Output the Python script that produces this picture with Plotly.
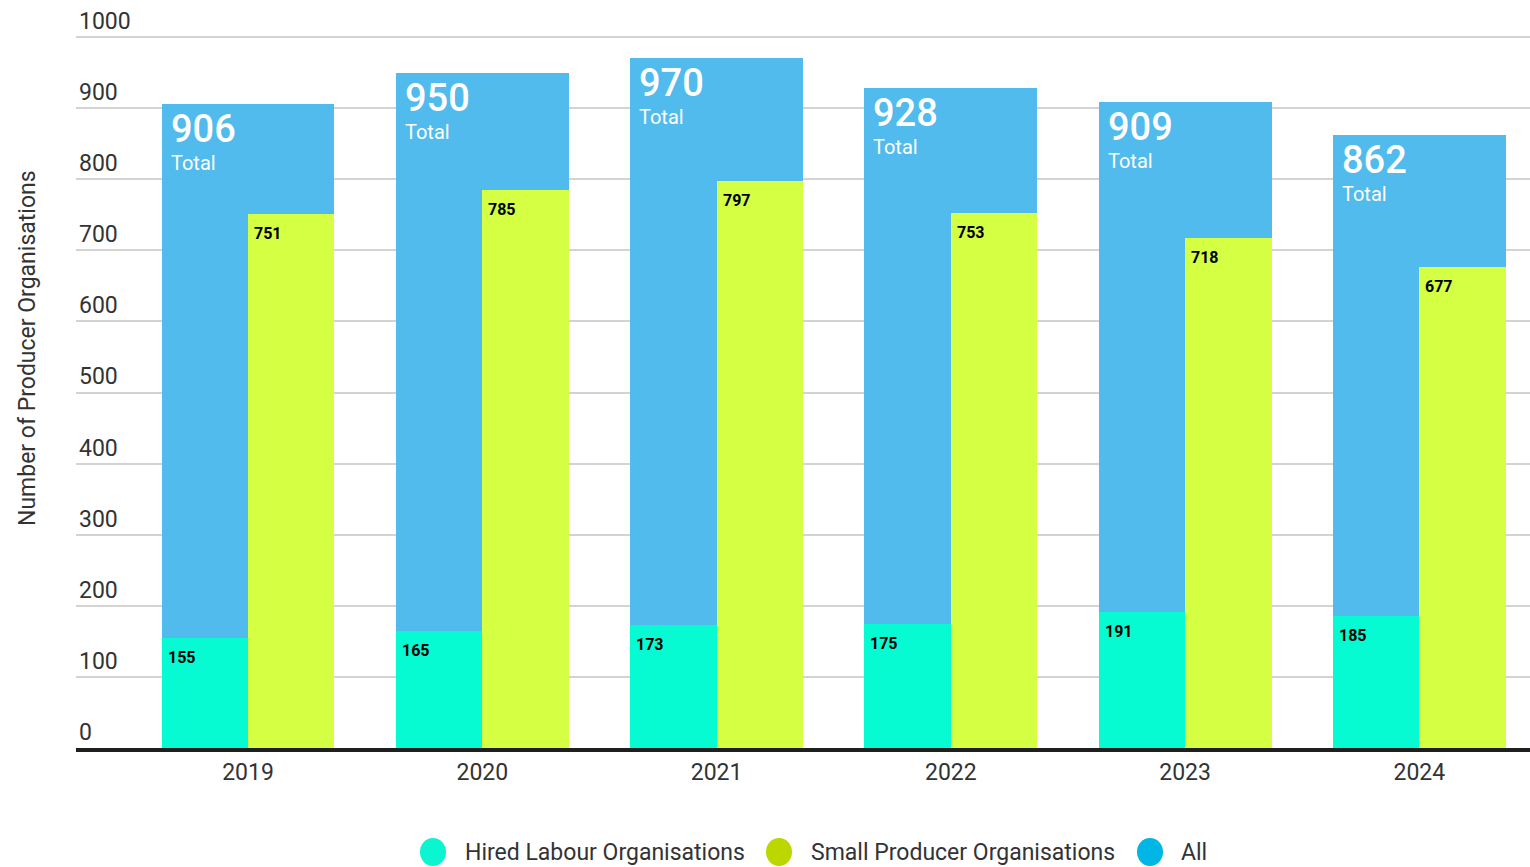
import plotly.graph_objects as go

years = ["2019", "2020", "2021", "2022", "2023", "2024"]
all_total = [906, 950, 970, 928, 909, 862]
hired_labour = [155, 165, 173, 175, 191, 185]
small_producer = [751, 785, 797, 753, 718, 677]

legend_names = ["Hired Labour Organisations", "Small Producer Organisations", "All"]

bar_all = "#50bbec"
bar_hired = "#06fbd2"
bar_spo = "#d4ff42"
legend_colors = ["#0af5d0", "#bcd600", "#00b6e4"]

FONT = "Roboto"
TEXT = "#333333"
half = 0.369

W, H = 1530, 867
L, R, T, B = 76, 0, 9, 119
PW, PH = W - L - R, H - T - B


def px_x(px):
    return (px - L) / PW


def px_y(py):
    return (H - B - py) / PH


fig = go.Figure()

fig.add_trace(go.Bar(x=years, y=all_total, width=2 * half, offset=-half,
                     marker=dict(color=bar_all, line=dict(width=0)),
                     name="All", showlegend=False, hoverinfo="y"))
fig.add_trace(go.Bar(x=years, y=hired_labour, width=half, offset=-half,
                     marker=dict(color=bar_hired, line=dict(width=0)),
                     name="Hired Labour Organisations", showlegend=False, hoverinfo="y"))
fig.add_trace(go.Bar(x=years, y=small_producer, width=half, offset=0,
                     marker=dict(color=bar_spo, line=dict(width=0)),
                     name="Small Producer Organisations", showlegend=False, hoverinfo="y"))

ann = []
for i, y in enumerate(years):
    ann.append(dict(x=i - half, y=all_total[i], xref="x", yref="y",
                    text=str(all_total[i]), showarrow=False,
                    xanchor="left", yanchor="top", xshift=7, yshift=-1,
                    font=dict(family=FONT, size=38, color="white", weight=500)))
    ann.append(dict(x=i - half, y=all_total[i], xref="x", yref="y",
                    text="Total", showarrow=False,
                    xanchor="left", yanchor="top", xshift=7, yshift=-45,
                    font=dict(family=FONT, size=20, color="white")))
    ann.append(dict(x=i - half, y=hired_labour[i], xref="x", yref="y",
                    text=str(hired_labour[i]), showarrow=False,
                    xanchor="left", yanchor="top", xshift=4, yshift=-8,
                    font=dict(family=FONT, size=16, color="black", weight="bold")))
    ann.append(dict(x=i, y=small_producer[i], xref="x", yref="y",
                    text=str(small_producer[i]), showarrow=False,
                    xanchor="left", yanchor="top", xshift=4, yshift=-8,
                    font=dict(family=FONT, size=16, color="black", weight="bold")))

# y-axis title
ann.append(dict(x=px_x(27), y=px_y(348), xref="paper", yref="paper",
                text="Number of Producer Organisations", textangle=-90,
                showarrow=False, xanchor="center", yanchor="middle",
                font=dict(family=FONT, size=23, color=TEXT)))

# legend: round swatches + labels along the bottom
shapes = []
swatch_x = [433, 779, 1150]
label_x = [463, 809, 1179]
legend_y = 852
for name, col, sx, lx in zip(legend_names, legend_colors, swatch_x, label_x):
    shapes.append(dict(type="circle", xref="paper", yref="paper",
                       xsizemode="pixel", ysizemode="pixel",
                       xanchor=px_x(sx), yanchor=px_y(legend_y),
                       x0=-13, x1=13, y0=-14, y1=14,
                       fillcolor=col, line=dict(width=0)))
    ann.append(dict(x=px_x(lx), y=px_y(legend_y), xref="paper", yref="paper",
                    text=name, showarrow=False, xanchor="left", yanchor="middle",
                    font=dict(family=FONT, size=23, color=TEXT)))

fig.update_layout(
    width=W, height=H,
    margin=dict(l=L, r=R, t=T, b=B),
    paper_bgcolor="white", plot_bgcolor="white",
    barmode="overlay", bargap=0,
    font=dict(family=FONT, color=TEXT),
    annotations=ann, shapes=shapes,
    showlegend=False,
    xaxis=dict(type="category", range=[-0.7344, 5.4723], showgrid=False,
               showline=True, linecolor="#1f1f1f", linewidth=4,
               ticks="", tickfont=dict(family=FONT, size=23, color=TEXT)),
    yaxis=dict(range=[0, PH / 0.711], tickvals=list(range(0, 1001, 100)),
               showgrid=True, gridcolor="#d3d3d3", gridwidth=2,
               zeroline=False, showline=False,
               ticklabelposition="inside top", ticklabeloverflow="allow",
               ticks="", tickfont=dict(family=FONT, size=23, color=TEXT)),
)

fig.write_html("out.html")
